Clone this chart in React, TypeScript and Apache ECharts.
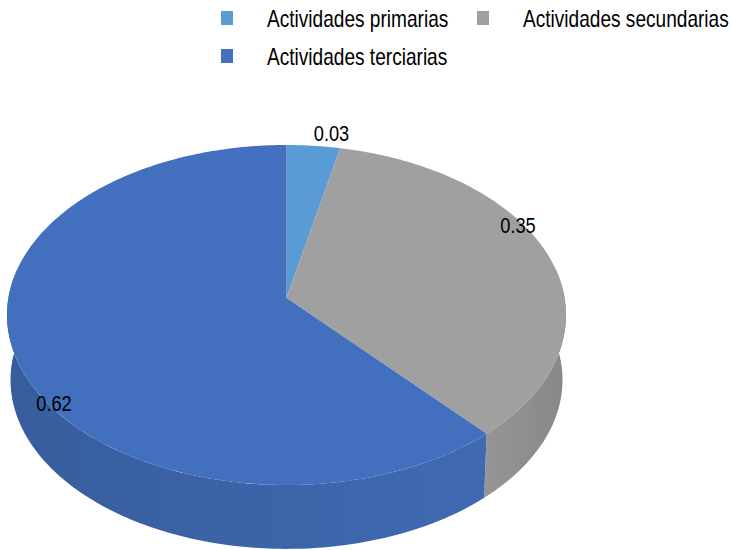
import React, { useEffect, useRef } from "react";
import * as echarts from "echarts";

const categories = ["Actividades primarias", "Actividades secundarias", "Actividades terciarias"];
const shares = [0.034, 0.35, 0.616];

const topColors = ["#5B9BD5", "#A0A0A0", "#4270BE"];
const sideStops = [
  ["#4A80B0", "#4A80B0"],
  ["#969696", "#878787"],
  ["#375D9D", "#3F6AB2"],
];
const labelAnchors = [
  [331.5, 133],
  [518, 225],
  [54, 403],
];
const legendIconSpots = [
  [221, 11],
  [477, 11],
  [221, 49],
];
const legendTextSpots = [
  [267, 19],
  [523, 19],
  [267, 57],
];
const visibleSide = [
  [0, 0],
  [80, 360],
  [0, 280],
];

// Perspective disc: the centre of the circle projects above the centre of the ellipse.
const TILT = 0.1;
const topFace = { cx: 286.5, cy: 298, a: 278.1, b: 168.3 };
const baseFace = { cx: 286.5, cy: 363, a: 274.6, b: 167.3 };
const FONT = "'Liberation Sans', Arial, sans-serif";
const NARROW = 0.83;

type Face = typeof topFace;
const project = (face: Face, deg: number): number[] => {
  const t = (deg * Math.PI) / 180;
  const u = Math.sin(t);
  const v = Math.cos(t);
  const d = 1 + TILT * v;
  return [face.cx + (face.a * u) / d, face.cy - (face.b * v) / d];
};
const arc = (face: Face, from: number, to: number): number[][] => {
  const n = Math.max(2, Math.ceil(Math.abs(to - from)));
  const pts: number[][] = [];
  for (let i = 0; i <= n; i++) pts.push(project(face, from + ((to - from) * i) / n));
  return pts;
};

const renderSlice = (index: number) => (_: unknown, api: any) => {
  const from = api.value(0) * 360;
  const to = api.value(1) * 360;
  const children: any[] = [];
  const s0 = Math.max(from, visibleSide[index][0]);
  const s1 = Math.min(to, visibleSide[index][1]);
  if (s1 > s0) {
    children.push({
      type: "polygon",
      shape: { points: [...arc(topFace, s0, s1), ...arc(baseFace, s1, s0)] },
      style: {
        fill: new echarts.graphic.LinearGradient(0, 0, 1, 0, [
          { offset: 0, color: sideStops[index][0] },
          { offset: 1, color: sideStops[index][1] },
        ]),
      },
    });
  }
  children.push({
    type: "polygon",
    shape: { points: [[topFace.cx, topFace.cy], ...arc(topFace, from, to)] },
    style: { fill: topColors[index] },
  });
  return { type: "group", children };
};

const labelRender = (_: unknown, api: any) => {
  const i = api.value(0);
  return {
    type: "text",
    x: labelAnchors[i][0],
    y: labelAnchors[i][1],
    scaleX: NARROW,
    style: {
      text: shares[i].toFixed(2),
      font: `22px ${FONT}`,
      fill: "#000",
      align: "center",
      verticalAlign: "middle",
    },
  };
};

export default function App() {
  const ref = useRef<HTMLDivElement>(null);
  useEffect(() => {
    document.body.style.margin = "0";
    const chart = echarts.init(ref.current!, undefined, { renderer: "svg" });
    let acc = 0;
    const sliceSeries = categories.map((name, i) => {
      const row = [acc, acc + shares[i], shares[i]];
      acc += shares[i];
      return {
        type: "custom",
        name,
        coordinateSystem: "none",
        itemStyle: { color: topColors[i] },
        renderItem: renderSlice(i),
        data: [row],
        silent: true,
      };
    });
    chart.setOption({
      animation: false,
      backgroundColor: "#fff",
      legend: categories.map((name, i) => ({
        left: legendIconSpots[i][0],
        top: legendIconSpots[i][1],
        data: [{ name, icon: "rect", itemStyle: { color: topColors[i] } }],
        itemWidth: 12,
        itemHeight: 14,
        selectedMode: false,
        padding: 0,
        formatter: () => "",
      })),
      graphic: categories.map((name, i) => ({
        type: "text",
        x: legendTextSpots[i][0],
        y: legendTextSpots[i][1],
        scaleX: NARROW,
        style: {
          text: name,
          font: `23px ${FONT}`,
          fill: "#000",
          align: "left",
          verticalAlign: "middle",
        },
      })),
      series: [
        ...sliceSeries,
        {
          type: "custom",
          coordinateSystem: "none",
          renderItem: labelRender,
          data: categories.map((_, i) => [i]),
          silent: true,
          z: 5,
        },
      ],
    } as any);
    return () => chart.dispose();
  }, []);
  return <div ref={ref} style={{ width: 731, height: 550 }} />;
}
